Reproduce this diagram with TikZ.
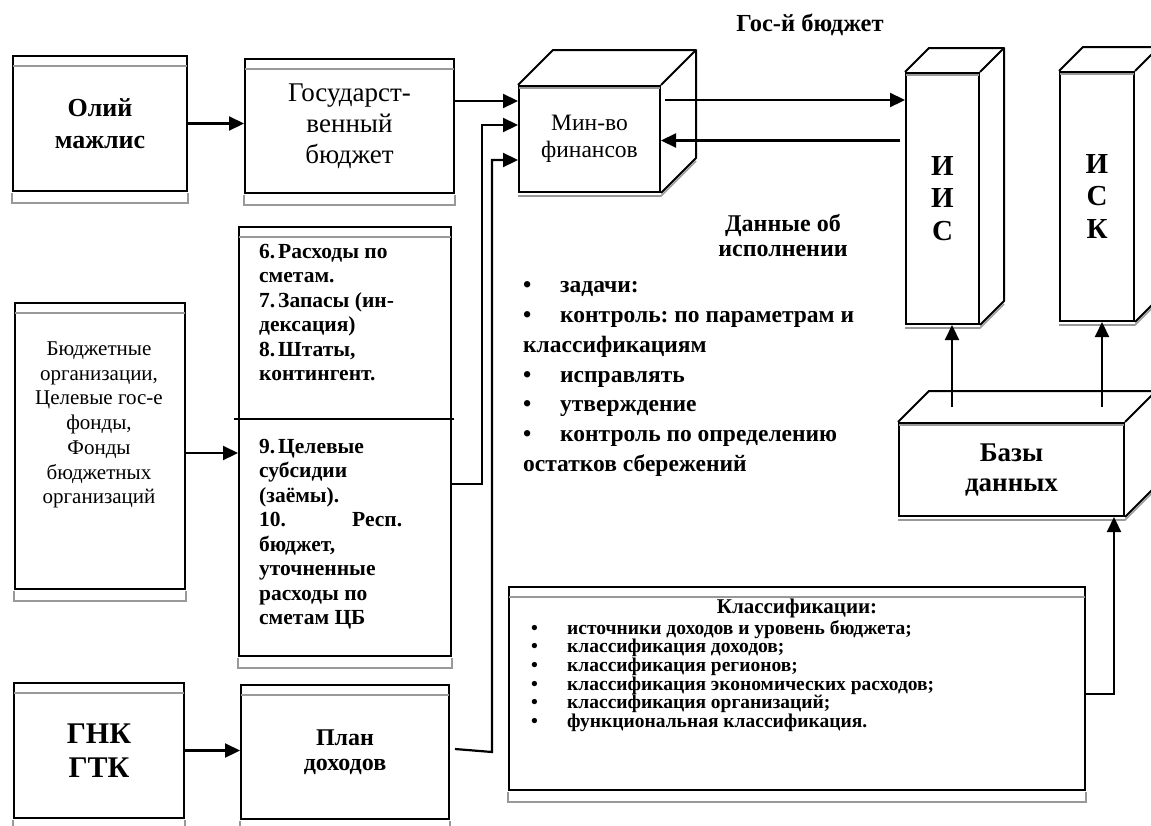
\documentclass[tikz,border=0pt]{standalone}
\usepackage{fontspec}
\setmainfont{Liberation Serif}
\usetikzlibrary{arrows.meta}
\frenchspacing

\tikzset{
	panel/.style={draw,line width=2pt,rectangle,anchor=north west,inner sep=0pt,align=center},
	cube/.style={draw,line width=2pt,rectangle,anchor=north west,inner sep=0pt,fill=white,align=center},
	arr/.style={-{Triangle[length=15pt,width=14pt]},line width=2.2pt},
	shade/.style={draw=black!40,line width=1.6pt},
	txt/.style={inner sep=0pt,align=left}
}

\begin{document}
\begin{tikzpicture}[x=1pt,y=-1pt]
	\useasboundingbox (0,0) rectangle (1151,825);

	\node[panel,minimum width=174pt,minimum height=135pt,font=\fontsize{26}{32}\selectfont\bfseries] (olij) at (12,55) {Олий\\мажлис};
	\node[panel,minimum width=209pt,minimum height=134pt,font=\fontsize{27}{31}\selectfont] (gosbud) at (244,58) {Государст-\\венный\\бюджет};
	\node[panel,minimum width=170pt,minimum height=286pt] (budorg) at (14,302) {};
	\node[txt,align=center,font=\fontsize{21}{24.7}\selectfont] (budorgtxt) at (99,425) {Бюджетные\\организации,\\Целевые гос-е\\фонды,\\Фонды\\бюджетных\\организаций};
	\node[panel,minimum width=212pt,minimum height=429pt] (rashody) at (238,226) {};
	\node[txt,anchor=west,font=\fontsize{21.5}{24.5}\selectfont\bfseries] (rashodyA) at (259,312.5) {\makebox[19pt][l]{6.}Расходы по\\сметам.\\\makebox[19pt][l]{7.}Запасы (ин-\\дексация)\\\makebox[19pt][l]{8.}Штаты,\\контингент.};
	\node[txt,anchor=west,font=\fontsize{21.5}{24.5}\selectfont\bfseries] (rashodyB) at (259,534) {\makebox[19pt][l]{9.}Целевые\\субсидии\\(заёмы).\\\makebox[143pt]{10.\hfill Респ.}\\бюджет,\\уточненные\\расходы по\\сметам ЦБ};
	\node[panel,minimum width=170pt,minimum height=135pt,font=\fontsize{30}{34}\selectfont\bfseries] (gnk) at (13,682) {ГНК\\ГТК};
	\node[panel,minimum width=208pt,minimum height=134pt,font=\fontsize{24}{25}\selectfont\bfseries] (plandoh) at (240,684) {План\\доходов};
	\node[panel,minimum width=576pt,minimum height=203pt] (klass) at (508,586) {};
	\node[txt,font=\fontsize{21}{21}\selectfont\bfseries] (klasstitle) at (797,608) {Классификации:};
	\node[txt,anchor=west,font=\fontsize{19.5}{18.6}\selectfont\bfseries] (klasslist) at (531,676) {\makebox[36pt][l]{\textbullet}источники доходов и уровень бюджета;\\\makebox[36pt][l]{\textbullet}классификация доходов;\\\makebox[36pt][l]{\textbullet}классификация регионов;\\\makebox[36pt][l]{\textbullet}классификация экономических расходов;\\\makebox[36pt][l]{\textbullet}классификация организаций;\\\makebox[36pt][l]{\textbullet}функциональная классификация.};

	% cubes
	\node[cube,minimum width=141pt,minimum height=106pt,font=\fontsize{23.5}{27}\selectfont] (minfin) at (518,85) {Мин-во\\финансов};
	\node[cube,minimum width=73pt,minimum height=251pt,font=\fontsize{29}{32.5}\selectfont\bfseries] (iis) at (905,72) {И\\И\\С};
	\node[cube,minimum width=74pt,minimum height=249pt,font=\fontsize{29}{32.5}\selectfont\bfseries] (isk) at (1059,71) {И\\С\\К};
	\node[cube,minimum width=225pt,minimum height=93pt,font=\fontsize{27}{30}\selectfont\bfseries] (bazy) at (898,422) {Базы\\данных};

	\node[font=\fontsize{24.5}{25}\selectfont\bfseries] (gostitle) at (810,25) {Гос-й бюджет};
	\node[txt,align=center,font=\fontsize{24}{25}\selectfont\bfseries] (dannye) at (783,235.5) {Данные об\\исполнении};
	\node[txt,anchor=west,font=\fontsize{23.5}{29.7}\selectfont\bfseries] (zadachi) at (523,379) {\makebox[37pt][l]{\textbullet}задачи:\\\makebox[37pt][l]{\textbullet}контроль: по параметрам и\\классификациям\\\makebox[37pt][l]{\textbullet}исправлять\\\makebox[37pt][l]{\textbullet}утверждение\\\makebox[37pt][l]{\textbullet}контроль по определению\\остатков сбережений};

	\foreach \n in {olij,gosbud,budorg,rashody,gnk,plandoh,klass}{
		\draw[shade] ([shift={(1,11)}]\n.north west) -- ([shift={(-1,11)}]\n.north east);
		\draw[shade] ([shift={(0,1)}]\n.south west) -- ++(0,10) -| ([shift={(0,1)}]\n.south east);
	}
	\foreach \n/\d in {minfin/35,iis/24,isk/24,bazy/31}{
		\draw[line width=2pt,line join=round] (\n.north west) -- ++(\d,-\d) -- ([shift={(\d,-\d)}]\n.north east) -- ([shift={(\d,-\d)}]\n.south east) -- (\n.south east);
		\draw[line width=2pt] (\n.north east) -- ++(\d,-\d);
		\draw[shade] ([shift={(1,3)}]\n.north west) -- ([shift={(-1,3)}]\n.north east);
		\draw[shade] ([shift={(0,3)}]\n.south west) -- ([shift={(0,3)}]\n.south east) -- ++(\d,-\d);
	}
	\draw[line width=2pt] ([shift={(-4,193)}]rashody.north west) -- ([shift={(2,193)}]rashody.north east);

	\coordinate (g1) at ([shift={(0,-25)}]gosbud.east);
	\coordinate (b1) at ([shift={(0,7)}]budorg.east);
	\coordinate (m1) at ([shift={(4,-39)}]minfin.east);
	\coordinate (i1) at ([shift={(-5,-58)}]iis.west);
	\coordinate (z1) at ([shift={(54,-15)}]bazy.north west);
	\coordinate (z2) at ([shift={(204,-15)}]bazy.north west);
	\coordinate (k1) at ([shift={(0,5.5)}]klass.east);

	\draw[arr] (olij.east) -- (olij.east -| gosbud.west);
	\draw[arr] (g1) -- (g1 -| minfin.west);
	\draw[arr] (b1) -- (b1 -| rashody.west);
	\draw[arr] (gnk.east) -- (gnk.east -| plandoh.west);
	\draw[arr] ([shift={(0,42.5)}]rashody.east) -- ++(30,0) |- ([shift={(0,-14)}]minfin.west);
	\draw[arr] ([shift={(5,-3)}]plandoh.east) -- ++(37,3) |- ([shift={(0,21)}]minfin.west);
	\draw[arr] (m1) -- (m1 -| iis.west);
	\draw[arr] (i1) -- (i1 -| minfin.east);
	\draw[arr] (z1) -- (z1 |- iis.south);
	\draw[arr] (z2) -- (z2 |- isk.south);
	\draw[arr] (k1) -| ([shift={(-11,0)}]bazy.south east);
\end{tikzpicture}
\end{document}
